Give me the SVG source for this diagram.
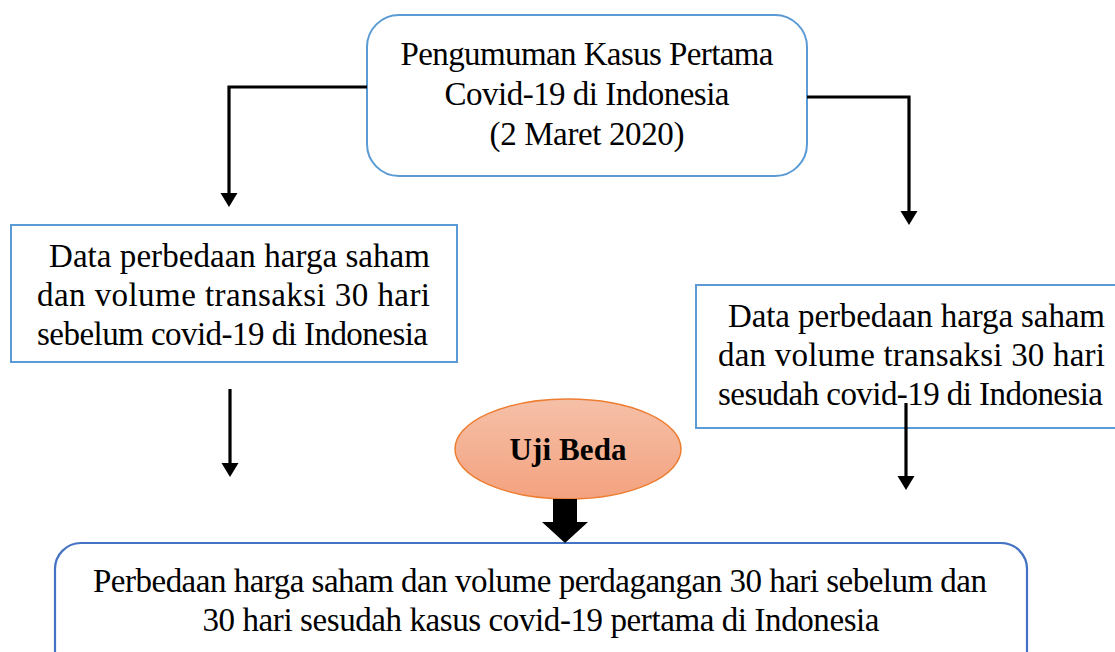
<svg xmlns="http://www.w3.org/2000/svg" width="1115" height="652" viewBox="0 0 1115 652">
  <defs>
    <style>
      .txt { font-family: "Liberation Serif", "Times New Roman", serif; font-size: 33px; fill: #000; }
      .bold { font-weight: bold; font-size: 31px; }
      .box { fill: #fff; stroke: #5b9bd5; stroke-width: 2; }
      .box2 { fill: #fff; stroke: #4472c4; stroke-width: 2.2; }
      .conn { fill: none; stroke: #000; stroke-width: 3.2; marker-end: url(#head); }
    </style>
    <marker id="head" markerUnits="userSpaceOnUse" markerWidth="15" markerHeight="17" refX="0" refY="8.5" orient="auto" overflow="visible">
      <path d="M0,0 L14,8.5 L0,17 Z" fill="#000"/>
    </marker>
    <linearGradient id="ovalFill" x1="0" y1="0" x2="0" y2="1">
      <stop offset="0" stop-color="#f5c0a8"/>
      <stop offset="1" stop-color="#f4a27f"/>
    </linearGradient>
  </defs>

  <rect width="1115" height="652" fill="#fff"/>

  <!-- announcement of the first case -->
  <g id="announcement">
    <rect class="box" x="367" y="15" width="440" height="161" rx="32" ry="32"/>
    <text class="txt" x="587" y="65" text-anchor="middle" textLength="373">Pengumuman Kasus Pertama</text>
    <text class="txt" x="587" y="105" text-anchor="middle" textLength="285">Covid-19 di Indonesia</text>
    <text class="txt" x="587" y="145" text-anchor="middle" textLength="195">(2 Maret 2020)</text>
  </g>

  <!-- data before -->
  <g id="data-before">
    <rect class="box" x="11" y="225" width="446" height="137"/>
    <text class="txt" x="49" y="267" textLength="381">Data perbedaan harga saham</text>
    <text class="txt" x="37" y="306" textLength="393">dan volume transaksi 30 hari</text>
    <text class="txt" x="37" y="345" textLength="391">sebelum covid-19 di Indonesia</text>
  </g>

  <!-- data after -->
  <g id="data-after">
    <rect class="box" x="696" y="285" width="440" height="143"/>
    <text class="txt" x="728" y="327" textLength="377">Data perbedaan harga saham</text>
    <text class="txt" x="718" y="366" textLength="387">dan volume transaksi 30 hari</text>
    <text class="txt" x="718" y="405" textLength="385">sesudah covid-19 di Indonesia</text>
  </g>

  <!-- difference test -->
  <g id="uji-beda">
    <ellipse cx="568" cy="449" rx="113" ry="50" fill="url(#ovalFill)" stroke="#ed7d31" stroke-width="1.5"/>
    <text class="txt bold" x="568" y="460" text-anchor="middle" textLength="117">Uji Beda</text>
  </g>

  <!-- result -->
  <g id="result">
    <rect class="box2" x="55" y="543" width="972" height="140" rx="26" ry="26"/>
    <text class="txt" x="540" y="592" text-anchor="middle" textLength="894">Perbedaan harga saham dan volume perdagangan 30 hari sebelum dan</text>
    <text class="txt" x="541" y="631" text-anchor="middle" textLength="677">30 hari sesudah kasus covid-19 pertama di Indonesia</text>
  </g>

  <!-- connectors -->
  <g id="connectors">
    <path class="conn" d="M367,87 H229 V193"/>
    <path class="conn" d="M807,97 H909 V211"/>
    <path class="conn" d="M230,389 V463"/>
    <path class="conn" d="M906,403 V476"/>
    <polygon points="553,499 577,499 577,522 588,522 565,543 542,522 553,522" fill="#000"/>
  </g>
</svg>
